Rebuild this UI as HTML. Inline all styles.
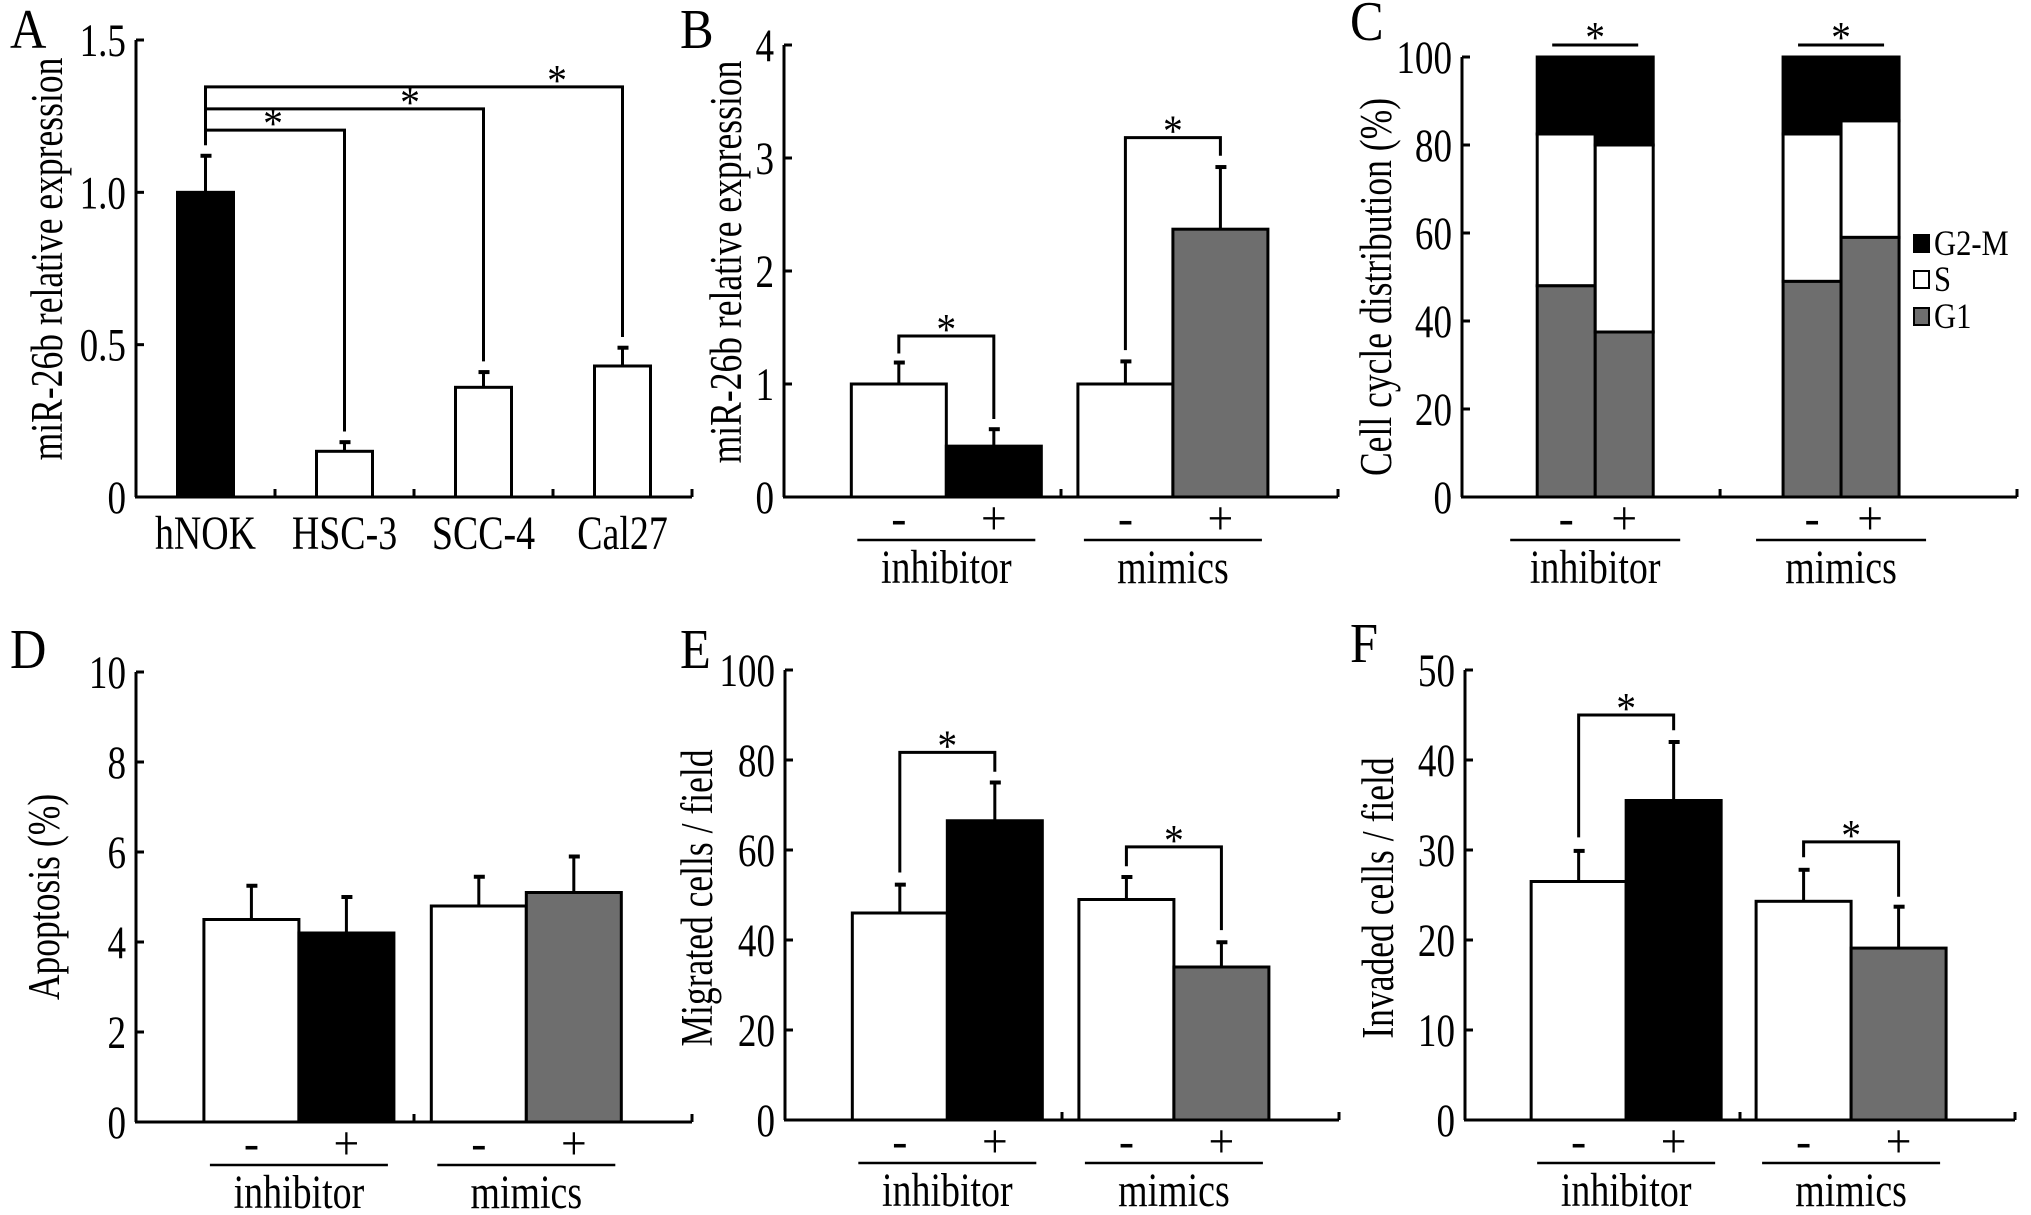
<!DOCTYPE html>
<html><head><meta charset="utf-8">
<style>
html,body{margin:0;padding:0;background:#fff;}
svg{display:block;}
text{font-family:"Liberation Serif","Times New Roman",serif;fill:#000;}
</style></head>
<body>
<svg id="fig" width="2031" height="1215" viewBox="0 0 2031 1215" xmlns="http://www.w3.org/2000/svg"></svg>
<script>
// ---------- DATA ----------
// Panel A
const aCategories = ["hNOK","HSC-3","SCC-4","Cal27"];
const aValues = [1.0, 0.15, 0.36, 0.43];
const aErrors = [0.12, 0.03, 0.05, 0.06];
const aTicks = [0, 0.5, 1.0, 1.5];
const aTickLabels = ["0","0.5","1.0","1.5"];
// Panel B
const bValues = [1.0, 0.45, 1.0, 2.37];
const bErrors = [0.19, 0.15, 0.2, 0.55];
const bTicks = [0,1,2,3,4];
// Panel C (stacked: G1, S, G2-M)
const cG1 = [48, 37.5, 49, 59];
const cS = [34.5, 42.5, 33.5, 26.5];
const cG2M = [17.5, 20, 17.5, 14.5];
const cTicks = [0,20,40,60,80,100];
const cLegend = ["G2-M","S","G1"];
// Panel D
const dValues = [4.5, 4.2, 4.8, 5.1];
const dErrors = [0.75, 0.8, 0.65, 0.8];
const dTicks = [0,2,4,6,8,10];
// Panel E
const eValues = [46, 66.5, 49, 34];
const eErrors = [6.3, 8.5, 5, 5.5];
const eTicks = [0,20,40,60,80,100];
// Panel F
const fValues = [26.5, 35.5, 24.3, 19.1];
const fErrors = [3.4, 6.5, 3.5, 4.6];
const fTicks = [0,10,20,30,40,50];
const groups = ["inhibitor","mimics"];
const signs = ["-","+"];

// ---------- HELPERS ----------
const svg = document.getElementById('fig');
const NS = "http://www.w3.org/2000/svg";
const SX = 0.79;
function el(tag, attrs, parent){
  const e = document.createElementNS(NS, tag);
  for (const k in attrs) e.setAttribute(k, attrs[k]);
  (parent||svg).appendChild(e);
  return e;
}
function line(x1,y1,x2,y2,w,p){ return el('line',{x1:x1,y1:y1,x2:x2,y2:y2,stroke:'#000','stroke-width':w||3},p); }
function txt(x,y,s,size,anchor,p,rot,sx){
  const t = el('text',{transform:'translate('+x+','+y+')'+(rot?' rotate('+rot+')':'')+' scale('+(sx||SX)+',1)','font-size':size,'text-anchor':anchor||'middle'},p);
  t.textContent = s;
  return t;
}
function yScale(y0,yTop,max){ return v => y0 - v*(y0-yTop)/max; }

function axes(g, x0, x1, y0, yTop, ticks, labels, max, midTicks){
  const ys = yScale(y0,yTop,max);
  const ax = line(x0, y0, x0, yTop, 3, g);
   
  const bx = line(x0-1, y0, x1, y0, 3, g);
   
  line(x1, y0, x1, y0-8, 3, g);
  ticks.forEach((v,i)=>{
    const y = ys(v);
    line(x0, y, x0+8, y, 3, g);
    const t = txt(x0-10, y+16, labels ? labels[i] : String(v), 47, 'end', g);
    
    
  });
  (midTicks||[]).forEach(x=>line(x,y0,x,y0-8,3,g));
  return ys;
}
function bar(g,x,w,yTop,yBot,fill,name){
  const r = el('rect',{x:x,y:yTop,width:w,height:yBot-yTop,fill:fill,stroke:'#000','stroke-width':3},g);
  
  
  return r;
}
function errbar(g,cx,yv,ye){
  line(cx,yv,cx,ye,3,g);
  line(cx-5,ye,cx+6,ye,4,g);
}
function bracket(g,xa,xb,yb,ya,yc,starX){
  const p = el('polyline',{points:xa+','+ya+' '+xa+','+yb+' '+xb+','+yb+' '+xb+','+yc,fill:'none',stroke:'#000','stroke-width':3},g);
  
  
  const s = txt(starX!==undefined?starX:(xa+xb)/2, yb+8, '*', 44, 'middle', g, 0, 0.9);
  
  
}
function groupLabels(g, centers, y0, lineLen){
  centers.forEach((c,gi)=>{
    line(c-lineLen/2, y0+43, c+lineLen/2, y0+43, 2.5, g);
    const gl = txt(c, y0+86, groups[gi], 48, 'middle', g);
    
    
  });
}
function panelLetter(x,y,s){
  const t = txt(x,y,s,56,'start',null,0,0.9);
  
  
}
function yTitle(x,y,s,g){
  const t = txt(x,y,s,45,'middle',g,-90);
  
  
}

// Grouped panel (B, D, E, F)
function groupedPanel(opts){
  const g = el('g',{});
  
  
  const L = opts.x1 - opts.x0;
  const ys = axes(g, opts.x0, opts.x1, opts.y0, opts.yTop, opts.ticks, null, opts.max, [opts.x0+L*0.5]);
  const centers = [opts.x0+L*0.293, opts.x0+L*0.702];
  const bw = 95;
  const fills = ['#fff','#000','#fff','#6e6e6e'];
  const barCenters = [];
  opts.values.forEach((v,i)=>{
    const gi = Math.floor(i/2), j = i%2;
    const left = centers[gi] - bw + j*bw;
    const cx = left + bw/2;
    barCenters.push(cx);
    errbar(g, cx, ys(v), ys(v+opts.errors[i]));
    bar(g, left, bw, ys(v), opts.y0, fills[i], 'bar-'+groups[gi]+(j? '-plus':'-minus'));
    const sg = txt(cx, opts.y0+37, signs[j], 48, 'middle', g, 0, 0.95);
    
    
  });
  groupLabels(g, centers, opts.y0, 178);
  (opts.brackets||[]).forEach(b=>{
    bracket(g, barCenters[b[0]], barCenters[b[1]], ys(b[2]), ys(b[3]), ys(b[4]));
  });
  yTitle(opts.titleX, opts.titleY, opts.title, g);
}

// ---------- PANEL A ----------
(function(){
  const g = el('g',{});
  
  
  const x0=136, x1=692, y0=497, yTop=40;
  const slot = (x1-x0)/4;
  const ys = axes(g,x0,x1,y0,yTop,aTicks,aTickLabels,1.5,[x0+slot,x0+2*slot,x0+3*slot]);
  const bw=56;
  const cx = i => x0 + slot*(i+0.5);
  aValues.forEach((v,i)=>{
    errbar(g, cx(i), ys(v), ys(v+aErrors[i]));
    bar(g, cx(i)-bw/2, bw, ys(v), y0, i===0?'#000':'#fff', 'bar-'+aCategories[i]);
    const t = txt(cx(i), y0+52, aCategories[i], 48, 'middle', g);
    
    
  });
  const brLevels = [1.204, 1.274, 1.346];
  const starXs = [273, 410, 557];
  [1,2,3].forEach((k,i)=>{
    bracket(g, cx(0), cx(k), ys(brLevels[i]), ys(aValues[0]+aErrors[0]+0.035), ys(aValues[k]+aErrors[k]+0.035), starXs[i]);
  });
  yTitle(62, 259, 'miR-26b relative expression', g);
})();
panelLetter(10,48,'A');

// ---------- PANEL B ----------
groupedPanel({name:'panel-b',x0:784,x1:1338,y0:497,yTop:45,max:4,ticks:bTicks,values:bValues,errors:bErrors,
  brackets:[[0,1,1.425,1.27,0.69],[2,3,3.18,1.30,3.02]],title:'miR-26b relative expression',titleX:741,titleY:262});
panelLetter(680,48,'B');

// ---------- PANEL C ----------
(function(){
  const g = el('g',{});
  
  
  const x0=1462, x1=2017, y0=497, yTop=57;
  const L=x1-x0;
  const ys = axes(g,x0,x1,y0,yTop,cTicks,null,100,[x0+L*0.465]);
  const centers=[x0+L*0.24, x0+L*0.683];
  const bw=58;
  cG1.forEach((v,i)=>{
    const gi=Math.floor(i/2), j=i%2;
    const left = centers[gi]-bw+j*bw;
    const s1 = v, s2 = v+cS[i], s3 = s2+cG2M[i];
    bar(g,left,bw,ys(s2),ys(s1),'#fff','bar-s-'+i);
    bar(g,left,bw,ys(s3),ys(s2),'#000','bar-g2m-'+i);
    bar(g,left,bw,ys(s1),y0,'#6e6e6e','bar-g1-'+i);
    const sg = txt(left+bw/2, y0+37, signs[j], 48, 'middle', g, 0, 0.95);
    
    
  });
  centers.forEach((c)=>{
    const l = line(c-43, 45, c+43, 45, 3, g);
    
    
    const s = txt(c, 52, '*', 44, 'middle', g, 0, 0.9);
    
    
  });
  groupLabels(g, centers, y0, 170);
  const fillsL = ['#000','#fff','#6e6e6e'];
  const rowsY = [243, 279, 316];
  cLegend.forEach((lab,i)=>{
    const lg = el('g',{},g);
    
    
    el('rect',{x:1914,y:rowsY[i]-8,width:15,height:17,fill:fillsL[i],stroke:'#000','stroke-width':2},lg);
    txt(1934, rowsY[i]+12, lab, 36, 'start', lg, 0, 0.85);
  });
  yTitle(1391, 287, 'Cell cycle distribution (%)', g);
})();
panelLetter(1350,40,'C');

// ---------- PANEL D ----------
groupedPanel({name:'panel-d',x0:136,x1:692,y0:1122,yTop:672,max:10,ticks:dTicks,values:dValues,errors:dErrors,
  brackets:[],title:'Apoptosis (%)',titleX:59,titleY:897});
panelLetter(10,668,'D');

// ---------- PANEL E ----------
groupedPanel({name:'panel-e',x0:785,x1:1339,y0:1120,yTop:670,max:100,ticks:eTicks,values:eValues,errors:eErrors,
  brackets:[[0,1,81.7,55,77.4],[2,3,60.7,56.4,42.2]],title:'Migrated cells / field',titleX:712,titleY:898});
panelLetter(680,668,'E');

// ---------- PANEL F ----------
groupedPanel({name:'panel-f',x0:1465,x1:2015,y0:1120,yTop:670,max:50,ticks:fTicks,values:fValues,errors:fErrors,
  brackets:[[0,1,45,31.4,43.3],[2,3,30.9,29.2,24.8]],title:'Invaded cells / field',titleX:1393,titleY:898});
panelLetter(1350,662,'F');
</script>
</body></html>
